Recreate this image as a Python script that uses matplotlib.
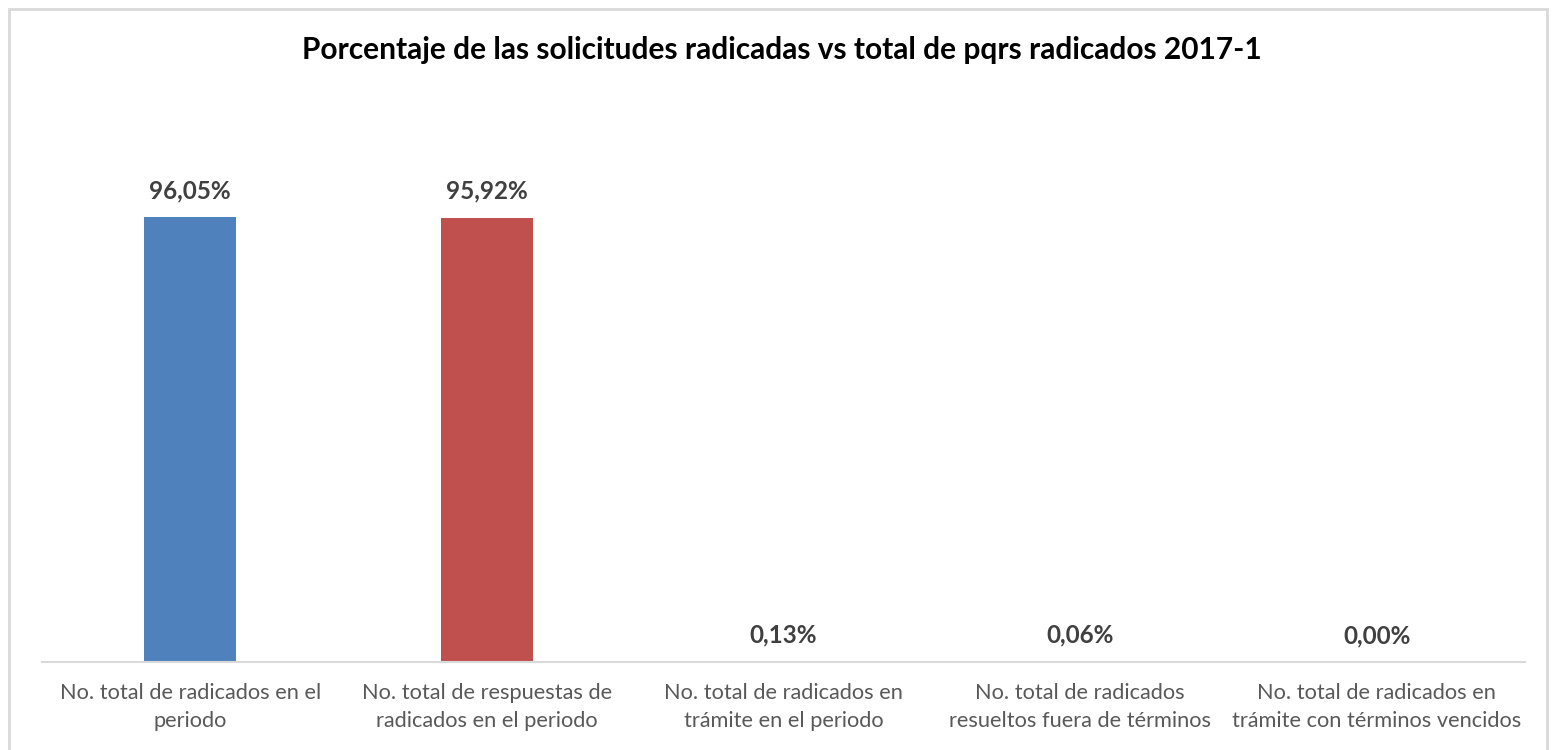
import matplotlib
matplotlib.use("Agg")
from matplotlib import pyplot as plt
from matplotlib.patches import Rectangle

categories = [
    "No. total de radicados en el\nperiodo",
    "No. total de respuestas de\nradicados en el periodo",
    "No. total de radicados en\ntrámite en el periodo",
    "No. total de radicados\nresueltos fuera de términos",
    "No. total de radicados en\ntrámite con términos vencidos",
]
values = [96.05, 95.92, 0.13, 0.06, 0.00]
labels = ["96,05%", "95,92%", "0,13%", "0,06%", "0,00%"]
colors = ["#4F81BD", "#C0504D", "#9BBB59", "#8064A2", "#4BACC6"]

plt.rcParams['font.family'] = ['Lato', 'DejaVu Sans']

fig = plt.figure(figsize=(15.53, 7.5), dpi=100)
ax = fig.add_axes([42 / 1553, 1 - 662 / 750, 1483 / 1553, 562 / 750])

x = range(len(categories))
ax.bar(x, values, width=0.31, color=colors, zorder=2)
for i, (v, lab) in enumerate(zip(values, labels)):
    ax.text(i, v + 5.7, lab, ha="center", va="center", fontsize=17.5,
            fontweight="bold", color="#404040")

ax.set_xlim(-0.5, len(categories) - 0.5)
ax.set_ylim(0, 121.3)
ax.set_xticks(list(x))
ax.set_xticklabels(categories, fontsize=15.7, color="#595959", linespacing=1.5)
ax.tick_params(axis="x", length=0, pad=15)
ax.set_yticks([])
for side in ["top", "right", "left"]:
    ax.spines[side].set_visible(False)
ax.spines["bottom"].set_color("#D9D9D9")
ax.spines["bottom"].set_linewidth(1.5)

fig.text(782 / 1553, 1 - 50 / 750, "Porcentaje de las solicitudes radicadas vs total de pqrs radicados 2017-1",
         ha="center", va="center", fontsize=21.5, fontweight="bold", color="black")

# chart border
fig.patches.append(Rectangle((9 / 1553, -0.05), 1538 / 1553, 1 - 9 / 750 + 0.05,
                             transform=fig.transFigure, fill=False,
                             edgecolor="#D9D9D9", linewidth=2))

fig.savefig("out.png", dpi=100, facecolor="white")
